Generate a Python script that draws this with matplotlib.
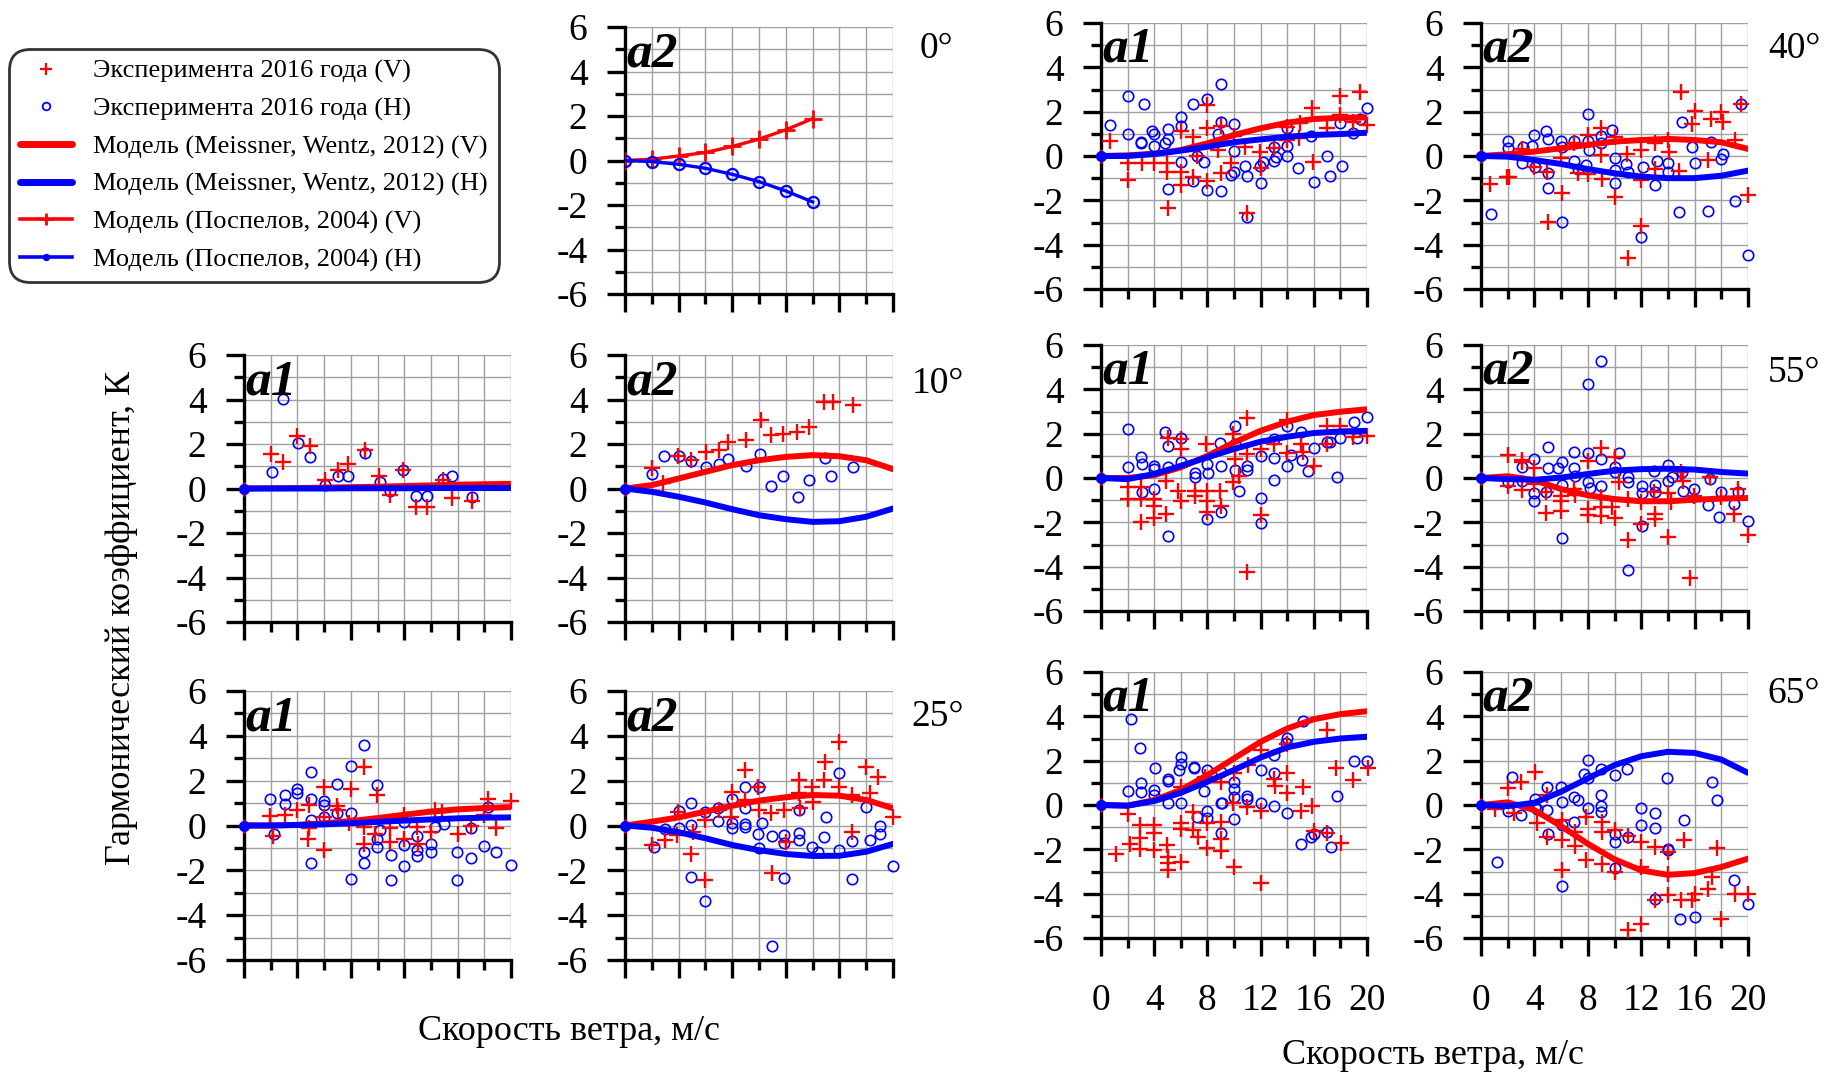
import matplotlib
matplotlib.use("Agg")
import matplotlib.pyplot as plt
from matplotlib.lines import Line2D

plt.rcParams["font.family"] = ["Liberation Serif", "DejaVu Serif"]
plt.rcParams["axes.unicode_minus"] = False

# wind speed grid for the model curves (m/s)
ws_model = [0, 2, 4, 6, 8, 10, 12, 14, 16, 18, 20]
ws_pospelov = [0, 2, 4, 6, 8, 10, 12, 14]

# Pospelov (2004) model, 0 deg, a2
pos_a2_0_V = [0, 0.06, 0.2, 0.36, 0.63, 0.96, 1.38, 1.88]
pos_a2_0_H = [0, -0.05, -0.17, -0.35, -0.62, -0.95, -1.37, -1.86]

# Meissner, Wentz (2012) model curves
mw_a1_10_V = [0, 0.01, 0.02, 0.04, 0.06, 0.08, 0.11, 0.14, 0.17, 0.19, 0.21]
mw_a1_10_H = [0, 0, 0, 0, 0.01, 0.01, 0.01, 0.02, 0.02, 0.02, 0.02]
mw_a2_10_V = [0, 0.15, 0.45, 0.75, 1.05, 1.27, 1.42, 1.5, 1.45, 1.27, 0.87]
mw_a2_10_H = [0, -0.15, -0.37, -0.63, -0.93, -1.2, -1.38, -1.5, -1.47, -1.27, -0.9]
mw_a1_25_V = [0, 0.0, 0.03, 0.1, 0.2, 0.33, 0.48, 0.62, 0.72, 0.78, 0.82]
mw_a1_25_H = [0, 0.0, 0.02, 0.05, 0.1, 0.16, 0.22, 0.27, 0.32, 0.35, 0.36]
mw_a2_25_V = [0, 0.17, 0.36, 0.62, 0.88, 1.11, 1.26, 1.36, 1.33, 1.14, 0.77]
mw_a2_25_H = [0, -0.1, -0.3, -0.57, -0.87, -1.1, -1.27, -1.36, -1.35, -1.17, -0.82]
mw_a1_40_V = [0, 0.03, 0.1, 0.27, 0.57, 0.95, 1.25, 1.5, 1.67, 1.72, 1.74]
mw_a1_40_H = [0, 0.0, 0.09, 0.24, 0.42, 0.62, 0.75, 0.87, 0.95, 0.99, 1.05]
mw_a2_40_V = [0, 0.08, 0.2, 0.35, 0.5, 0.65, 0.72, 0.77, 0.72, 0.62, 0.32]
mw_a2_40_H = [0, -0.03, -0.18, -0.36, -0.59, -0.78, -0.93, -1.0, -1.0, -0.89, -0.66]
mw_a1_55_V = [0, 0.0, 0.13, 0.48, 1.0, 1.6, 2.13, 2.54, 2.84, 2.99, 3.1]
mw_a1_55_H = [0, -0.05, 0.18, 0.55, 0.93, 1.31, 1.64, 1.86, 2.03, 2.1, 2.13]
mw_a2_55_V = [0, 0.08, -0.1, -0.5, -0.78, -0.95, -1.05, -1.05, -0.98, -0.93, -0.9]
mw_a2_55_H = [0, -0.05, -0.08, 0.02, 0.18, 0.33, 0.4, 0.42, 0.38, 0.27, 0.2]
mw_a1_65_V = [0, -0.03, 0.22, 0.68, 1.35, 2.1, 2.85, 3.45, 3.87, 4.1, 4.23]
mw_a1_65_H = [0, -0.03, 0.18, 0.55, 1.05, 1.58, 2.14, 2.6, 2.85, 3.0, 3.08]
mw_a2_65_V = [0, 0.12, -0.23, -0.95, -1.75, -2.45, -2.95, -3.15, -3.07, -2.8, -2.42]
mw_a2_65_H = [0, -0.05, 0.1, 0.6, 1.2, 1.8, 2.2, 2.4, 2.35, 2.05, 1.45]

# experiment 2016, (wind speed, harmonic coefficient)
a1_10_V = [(2.0, 1.54), (2.95, 1.17), (4.0, 2.37), (4.94, 1.92), (6.07, 0.39), (7.04, 0.84),
           (7.77, 1.11), (9.06, 1.71), (10.1, 0.58), (10.9, -0.31), (11.9, 0.84), (12.9, -0.81),
           (13.7, -0.81), (14.9, 0.39), (15.55, -0.43), (17.1, -0.54)]
a1_10_H = [(2.07, 0.76), (2.95, 4.01), (4.07, 2.04), (4.94, 1.41), (6.07, 0.16), (7.04, 0.58),
           (7.8, 0.58), (9.1, 1.59), (10.2, 0.27), (10.9, -0.1), (11.9, 0.81), (12.9, -0.33),
           (13.7, -0.33), (14.9, 0.42), (15.55, 0.54), (17.1, -0.39)]
a2_10_V = [(2.04, 0.94), (2.8, 0.25), (3.98, 1.45), (4.9, 1.27), (6.04, 1.65), (7.0, 1.75),
           (7.7, 2.1), (9.03, 2.17), (10.15, 3.07), (10.87, 2.4), (11.8, 2.43), (12.8, 2.52),
           (13.7, 2.76), (14.85, 3.9), (15.5, 3.9), (17.0, 3.75)]
a2_10_H = [(2.04, 0.63), (2.93, 1.47), (4.03, 1.45), (4.9, 1.24), (6.04, 0.96), (7.0, 1.11),
           (7.7, 1.32), (9.0, 1.02), (10.1, 1.57), (10.87, 0.13), (11.8, 0.55), (12.9, -0.4),
           (13.7, 0.4), (14.9, 1.38), (15.4, 0.55), (17.0, 0.96)]
a1_25_V = [(1.97, 0.42), (2.2, -0.46), (3.05, 0.46), (4.0, 0.71), (4.9, 0.91), (4.84, -0.13),
           (4.8, -0.58), (6.0, 1.72), (6.0, -1.1), (6.0, 0.39), (6.94, 0.86), (7.04, 0.68),
           (7.99, 1.65), (7.9, 0.09), (8.99, 2.62), (8.99, -0.83), (9.0, -0.06), (9.99, 1.35),
           (9.8, -0.36), (10.9, -0.13), (10.9, -0.73), (11.96, -0.62), (11.96, 0.46),
           (12.96, -0.06), (13.0, -0.83), (13.98, -0.31), (14.3, 0.68), (14.83, 0.61),
           (16.0, -0.36), (17.0, -0.03), (18.28, 1.2), (18.9, -0.13), (19.97, 1.1), (18.0, 0.46)]
a1_25_H = [(1.97, 1.2), (2.25, -0.36), (3.05, 1.35), (3.05, 0.98), (4.0, 1.65), (4.0, 1.43),
           (4.99, 2.39), (4.99, 1.16), (4.99, 0.24), (4.99, -1.67), (6.0, 1.1), (6.0, 0.91),
           (6.0, 0.39), (7.0, 1.87), (7.0, 0.57), (7.99, 2.65), (7.99, 0.54), (7.99, -2.38),
           (8.99, 3.57), (8.99, -1.17), (8.99, -1.67), (9.99, 1.8), (9.99, -0.58), (9.99, -0.95),
           (10.2, -0.18), (10.99, -1.32), (10.99, -2.41), (11.96, 0.16), (11.96, -0.88),
           (11.96, -1.81), (12.96, -0.46), (12.96, -1.1), (12.96, -1.37), (13.98, -0.83),
           (13.98, -1.17), (14.28, -0.06), (14.98, 0.06), (15.98, -1.17), (15.98, -2.41),
           (16.98, -0.1), (16.98, -1.47), (17.98, -0.91), (18.28, 0.83), (18.9, -1.17),
           (19.97, -1.77)]
a2_25_V = [(2.05, -0.87), (3.0, -0.65), (3.9, -0.43), (3.93, 0.62), (4.93, -1.25), (5.08, -0.28),
           (6.0, -2.43), (6.0, 0.25), (7.0, 0.69), (7.95, 1.51), (7.9, 0.39), (8.95, 2.48),
           (8.95, 1.14), (9.9, 1.73), (10.0, 0.69), (10.9, 0.54), (11.0, -2.13), (11.9, 0.69),
           (12.0, -0.75), (12.95, 2.03), (13.0, 1.43), (13.05, 0.8), (13.95, 1.7), (14.0, 1.06),
           (14.93, 2.84), (14.83, 2.03), (16.0, 3.74), (16.0, 1.73), (16.95, 1.36),
           (16.95, -0.28), (17.95, 2.62), (18.25, 1.43), (18.9, 2.15), (20.0, 0.39)]
a2_25_H = [(2.2, -0.97), (3.0, -0.17), (4.0, 0.66), (4.0, -0.13), (4.93, 1.02), (4.93, 0.02),
           (4.93, -2.28), (6.0, 0.62), (6.0, -3.36), (6.95, 0.77), (6.95, 0.22), (7.95, 1.17),
           (7.95, 0.1), (7.95, -0.13), (8.95, 1.7), (8.95, 0.77), (8.95, 0.07), (8.95, -0.05),
           (10.0, 1.7), (9.95, -0.38), (10.25, 0.13), (10.0, -1.02), (11.0, -0.47), (11.0, -5.36),
           (11.9, -0.43), (11.9, -0.8), (11.9, -2.36), (12.95, 0.69), (13.0, -0.32),
           (13.0, -0.65), (13.95, -0.95), (14.4, -1.17), (15.0, 0.39), (14.83, -0.5),
           (16.0, 2.36), (16.0, -1.1), (16.95, -0.68), (16.95, -2.38), (17.95, 0.84),
           (18.25, -0.65), (19.0, -0.02), (19.0, -0.38), (20.0, -1.79)]
a1_40_V = [(0.7, 0.68), (2.0, -1.08), (2.0, -0.3), (3.08, -0.33), (3.95, -0.33), (4.95, -0.33),
           (4.95, -0.7), (5.0, -2.36), (6.0, 1.13), (6.0, -0.7), (6.0, -1.3), (6.95, 0.84),
           (6.95, -0.93), (7.2, 0.0), (7.95, 1.25), (8.0, 2.3), (8.0, -1.15), (8.8, 0.27),
           (9.0, 1.35), (9.0, -0.78), (9.8, -0.33), (10.0, 0.9), (10.8, 0.42), (11.0, -2.58),
           (11.95, 0.2), (12.0, -0.55), (13.0, 0.35), (13.95, 1.32), (13.95, 0.72), (14.95, 1.47),
           (14.9, 0.8), (15.9, 2.15), (15.95, -0.25), (17.0, 1.25), (18.0, 2.7), (18.0, 1.85),
           (19.45, 2.9), (18.95, 1.55), (20.0, 1.4)]
a1_40_H = [(0.7, 1.4), (2.0, 2.7), (2.0, 0.98), (3.0, 0.65), (3.0, 0.57), (3.2, 2.34), (3.8, 1.14),
           (4.0, 0.98), (4.0, 0.45), (4.8, 0.6), (5.0, 0.75), (5.0, 1.2), (5.0, -1.5), (6.0, 1.74),
           (6.0, 1.37), (6.0, -0.29), (6.95, 2.34), (6.95, -1.13), (7.2, 0.0), (7.78, -0.29),
           (8.0, 2.57), (8.0, -1.53), (8.8, 0.98), (9.0, 3.24), (9.0, 1.52), (9.0, -1.58),
           (10.0, 1.43), (10.0, 0.23), (9.78, -0.86), (10.0, -0.71), (10.8, -0.44), (11.0, -0.9),
           (11.0, -2.73), (11.95, -0.44), (12.0, -1.2), (12.2, -0.26), (13.0, 0.42), (13.0, -0.22),
           (13.15, -0.03), (13.95, 0.45), (13.95, 0.02), (14.0, 1.25), (14.8, -0.56), (15.8, 0.9),
           (16.0, -1.16), (17.0, 0.02), (17.2, -0.89), (18.0, 1.5), (18.1, -0.44), (18.95, 1.05),
           (19.45, 1.65), (20.0, 2.15)]
a2_40_V = [(0.67, -1.26), (1.97, -0.96), (2.1, -0.96), (3.05, 0.32), (4.0, -0.48), (4.92, -0.74),
           (5.0, -2.96), (6.1, -1.65), (6.0, -0.1), (7.0, 0.6), (7.3, -0.78), (7.99, 0.95),
           (7.99, -0.83), (8.99, 1.25), (8.99, 0.05), (9.04, -1.05), (10.0, 0.87), (10.0, -1.83),
           (10.9, 0.08), (11.0, -4.59), (12.0, 0.27), (12.0, -1.08), (12.0, -3.14), (13.0, 0.57),
           (13.0, -0.59), (14.0, 0.72), (14.05, 0.2), (14.83, -0.68), (14.98, 2.87), (15.8, 1.44),
           (16.05, 2.05), (17.0, -0.18), (17.25, 1.67), (18.0, 2.0), (18.1, 1.52), (19.0, 0.72),
           (19.5, 2.33), (20.0, -1.76)]
a2_40_H = [(0.75, -2.62), (2.0, 0.68), (2.0, 0.35), (3.05, -0.33), (3.17, 0.42), (3.8, 0.45),
           (4.0, 0.95), (4.05, -0.48), (4.84, 1.14), (5.0, 0.75), (5.0, -0.78), (5.04, -1.46),
           (6.0, 0.68), (6.1, 0.42), (6.04, -2.96), (7.0, 0.68), (7.0, -0.23), (7.3, -0.59),
           (7.99, 1.89), (7.99, 0.68), (8.1, 0.27), (7.85, -0.41), (8.99, 0.57), (8.99, 0.92),
           (9.8, 1.17), (10.04, -0.08), (10.04, -1.23), (10.04, -0.63), (10.84, -0.38),
           (11.0, -0.71), (12.0, -3.64), (12.16, -0.48), (13.0, -1.31), (13.16, -0.23),
           (14.0, -0.33), (14.0, -0.71), (14.83, -2.54), (15.03, 1.55), (15.83, 0.39),
           (16.05, -0.3), (17.03, -2.48), (17.25, 0.62), (18.0, -0.14), (18.15, 0.08),
           (19.0, -2.02), (19.48, 2.35), (20.0, -4.47)]
a1_55_V = [(2.0, -0.42), (2.0, -0.95), (3.0, -0.42), (3.0, -0.95), (3.0, -2.0), (4.0, -0.95),
           (4.0, -1.28), (4.0, -1.82), (4.9, -1.62), (4.9, -0.15), (5.05, 1.79), (6.05, 1.76),
           (6.05, 1.31), (5.8, -0.57), (6.05, -1.02), (7.05, -0.57), (7.05, -0.83), (7.9, 1.53),
           (8.0, -0.57), (8.0, -1.05), (8.0, -1.55), (8.95, -0.57), (9.0, -1.25), (9.9, 1.98),
           (10.05, 0.86), (9.9, -0.2), (10.35, 0.11), (11.0, 2.69), (11.0, 1.08), (11.0, -4.23),
           (12.0, 1.31), (12.0, -1.67), (13.0, 1.53), (14.0, 2.63), (14.0, 1.13), (15.0, 1.53),
           (15.2, 1.16), (16.0, 0.56), (17.0, 2.36), (17.0, 1.53), (18.0, 2.36), (18.95, 1.86),
           (20.0, 1.91)]
a1_55_H = [(2.0, 0.48), (2.05, 2.21), (3.0, 0.93), (3.05, 0.63), (3.05, -0.62), (4.0, 0.53),
           (4.0, 0.41), (4.0, -0.5), (4.8, 2.06), (5.05, 1.43), (5.05, 0.48), (5.05, -2.6),
           (6.05, 0.71), (6.05, 1.79), (7.05, 0.23), (7.05, 0.03), (8.0, 0.63), (8.05, 0.23),
           (8.0, -1.85), (8.95, 1.58), (9.0, 0.53), (9.0, -1.55), (10.05, 2.36), (10.05, 1.53),
           (10.05, 0.36), (10.35, -0.57), (11.0, 0.56), (11.0, 0.36), (12.0, 0.98), (12.0, -0.92),
           (12.0, -2.05), (13.0, 1.76), (13.0, 0.9), (13.0, -0.08), (14.0, 2.36), (14.0, 0.56),
           (14.25, 1.05), (15.0, 2.06), (15.1, 0.83), (15.6, 0.3), (16.0, 1.35), (17.0, 1.64),
           (17.2, 1.64), (17.75, 0.03), (18.0, 1.8), (19.0, 2.54), (19.25, 1.8), (20.0, 2.77)]
a2_55_V = [(2.05, 1.04), (2.05, -0.38), (3.05, 0.83), (3.05, 0.74), (3.05, -0.53), (4.0, 0.44),
           (4.0, -0.27), (4.85, -0.65), (4.85, -1.58), (6.0, -0.8), (6.0, -1.02), (6.0, -1.47),
           (7.0, -0.5), (7.05, -0.77), (7.99, 0.78), (7.99, -1.4), (7.99, -1.67), (9.0, 1.34),
           (9.0, -0.87), (9.0, -1.32), (9.0, -1.7), (10.0, 0.93), (10.0, -1.82), (10.3, -0.2),
           (9.85, -1.32), (10.99, -0.95), (10.99, -2.78), (11.96, -2.08), (11.96, -1.07),
           (12.96, -0.65), (13.03, -1.62), (13.03, -1.85), (13.98, -0.68), (13.98, -2.68),
           (14.23, -1.07), (14.98, 0.29), (15.15, -0.12), (15.65, -4.51), (15.98, -0.8),
           (17.15, 0.03), (17.98, -0.87), (18.98, -1.62), (19.23, -0.5), (20.0, -2.57)]
a2_55_H = [(2.05, -0.2), (3.05, 0.48), (3.05, -0.12), (4.0, 0.86), (4.0, -0.69), (4.0, -1.02),
           (4.85, -0.65), (5.0, 1.38), (5.0, 0.44), (5.8, 0.44), (6.04, 0.74), (6.04, -0.3),
           (6.04, -2.71), (7.0, 1.16), (7.0, 0.44), (7.05, 0.08), (7.99, 4.24), (8.04, 1.13),
           (8.04, -0.2), (8.16, -0.47), (9.0, 5.29), (9.0, 0.86), (9.0, -0.38), (10.04, 0.48),
           (10.04, 0.26), (10.3, 1.13), (10.99, 0.06), (11.04, -0.2), (11.04, -4.14),
           (12.04, -0.35), (12.04, -0.68), (12.04, -2.18), (12.99, 0.33), (13.03, -0.32),
           (13.03, -0.65), (13.98, 0.59), (14.03, -0.15), (14.28, 0.03), (15.03, 0.29),
           (15.15, -0.57), (15.98, -0.5), (16.98, -1.2), (17.15, -0.05), (17.83, -1.74),
           (18.0, -0.65), (18.98, -1.17), (19.28, -0.65), (20.0, -1.92)]
a1_65_V = [(1.15, -2.22), (2.0, -0.42), (2.2, -1.77), (2.95, -0.9), (2.95, -1.5), (2.95, -2.0),
           (4.0, -0.9), (4.0, -1.28), (4.0, -2.03), (4.95, -1.8), (5.0, -2.33), (5.0, -2.63),
           (5.0, -2.93), (6.0, -0.83), (6.0, -1.1), (6.0, -2.55), (6.0, 0.83), (6.95, -0.3),
           (6.95, -1.13), (7.33, -1.43), (7.83, 1.28), (7.95, -0.83), (8.0, -1.95), (9.0, 1.05),
           (9.0, -0.75), (9.0, -1.53), (9.0, -2.06), (10.0, 1.46), (9.95, 0.08), (10.0, -2.78),
           (10.95, -0.08), (11.08, 1.8), (12.0, 2.48), (12.0, -0.26), (12.0, -3.53), (13.0, 1.16),
           (13.08, 0.87), (13.95, 1.43), (14.0, 0.53), (13.95, 2.75), (15.0, -0.26), (15.2, 0.83),
           (15.9, -0.05), (16.0, -1.16), (17.0, 3.38), (17.0, -1.25), (17.7, 1.68),
           (18.08, -1.73), (18.95, 1.13), (20.08, 1.65)]
a1_65_H = [(2.0, 0.65), (2.25, 3.87), (2.95, 2.55), (3.0, 1.0), (3.0, 0.6), (4.08, 1.68),
           (4.0, 0.68), (4.0, 0.45), (5.0, 1.16), (5.0, 0.1), (5.0, 1.1), (6.0, 2.18), (6.0, 1.85),
           (5.9, 1.58), (6.0, 0.08), (7.0, 1.73), (7.0, 1.65), (7.25, -0.53), (7.78, 0.65),
           (8.0, 1.58), (8.0, -0.27), (8.0, -0.6), (9.0, 1.5), (9.0, 0.1), (9.08, 0.08),
           (9.0, -1.25), (10.0, 1.05), (10.0, 0.72), (10.0, 0.38), (10.0, -0.63), (10.95, 0.4),
           (11.0, 0.25), (12.0, 1.6), (12.0, 0.08), (13.0, 2.25), (13.0, 1.46), (13.0, -0.03),
           (13.95, 3.03), (13.9, 2.8), (14.0, -0.35), (15.0, -1.75), (15.2, 3.78), (15.78, -1.43),
           (16.0, -1.3), (17.0, -1.2), (17.28, -1.88), (17.75, 0.4), (19.0, 2.0), (20.0, 2.0)]
a2_65_V = [(1.05, -0.17), (2.05, 0.78), (2.47, -0.36), (3.0, 1.04), (4.04, 1.49), (4.17, -0.81),
           (4.96, 0.44), (4.96, -1.44), (6.03, -0.66), (6.03, -1.59), (6.03, -2.95), (7.03, -1.22),
           (7.03, -1.86), (7.9, -0.54), (7.9, -2.5), (9.03, -0.77), (9.03, -1.22), (9.03, -2.68),
           (10.02, -1.14), (10.02, -3.02), (11.0, -1.41), (11.0, -5.62), (12.0, -1.67),
           (12.0, -2.8), (12.0, -5.35), (13.0, -1.89), (13.0, -4.3), (14.0, -2.12), (14.0, -3.1),
           (14.0, -4.08), (15.0, -4.27), (15.2, -1.59), (15.8, -4.3), (16.0, -4.0), (17.0, -3.77),
           (17.33, -3.25), (17.68, -1.92), (18.0, -5.13), (19.0, -4.0), (20.0, -4.0)]
a2_65_H = [(1.22, -2.57), (2.05, -0.27), (2.3, 1.26), (3.0, -0.47), (4.04, 0.29), (4.04, -0.09),
           (4.17, -0.17), (4.96, 0.81), (4.96, -0.24), (5.04, -1.32), (5.96, 0.81), (6.03, 0.14),
           (6.03, -0.92), (6.03, -3.67), (7.0, 0.36), (7.28, 0.24), (7.0, -0.77), (7.75, 1.41),
           (8.03, 2.05), (8.03, 1.23), (8.03, -0.12), (9.0, 1.64), (9.0, 0.44), (9.0, -0.06),
           (9.0, -0.32), (10.02, 1.37), (10.02, -1.29), (10.02, -1.67), (10.02, -2.83),
           (10.95, 1.64), (11.0, -1.44), (12.0, -0.12), (12.0, -0.92), (13.0, -0.35),
           (13.0, -1.04), (13.0, -4.23), (13.9, 1.22), (14.0, -1.97), (14.0, -2.02),
           (14.93, -5.13), (15.2, -0.69), (16.0, -5.05), (17.3, 1.04), (17.68, 0.21),
           (18.95, -3.4), (20.0, -4.48)]

RED = "#ff0000"
BLUE = "#0000ff"
SERIF = "Liberation Serif"
W, H = 1827, 1076


def px_axes(fig, x0, y0, x1, y1):
    return fig.add_axes([x0 / W, 1 - y1 / H, (x1 - x0) / W, (y1 - y0) / H])


def style(ax, label, xlabels=False):
    ax.set_xlim(0, 20)
    ax.set_ylim(-6, 6)
    ax.set_xticks(range(0, 21, 4))
    ax.set_xticks(range(0, 21, 2), minor=True)
    ax.set_yticks(range(-6, 7, 2))
    ax.set_yticks(range(-6, 7, 1), minor=True)
    ax.set_yticklabels([str(v) for v in range(-6, 7, 2)], fontfamily=SERIF, fontsize=27)
    if xlabels:
        ax.set_xticklabels([str(v) for v in range(0, 21, 4)], fontfamily=SERIF, fontsize=27)
    else:
        ax.set_xticklabels([])
    ax.grid(True, which="both", color="#a0a0a0", lw=1.0, zorder=0)
    ax.set_axisbelow(True)
    for s in ["top", "right"]:
        ax.spines[s].set_visible(False)
    for s in ["left", "bottom"]:
        ax.spines[s].set_linewidth(2.4)
    ax.tick_params(which="major", direction="out", length=13, width=2.4)
    ax.tick_params(which="minor", direction="out", length=7, width=2.4)
    ax.tick_params(axis="y", pad=14)
    ax.tick_params(axis="x", pad=20)
    ax.text(0.005, 0.985, label, transform=ax.transAxes, ha="left", va="top",
            fontsize=37, fontweight="bold", fontstyle="italic", zorder=10)


def scatter(ax, pts_v, pts_h):
    ax.plot([p[0] for p in pts_h], [p[1] for p in pts_h], ls="none", marker="o",
            mfc="none", mec=BLUE, ms=7.5, mew=1.2, clip_on=False, zorder=3)
    ax.plot([p[0] for p in pts_v], [p[1] for p in pts_v], ls="none", marker="+",
            color=RED, ms=12, mew=1.7, clip_on=False, zorder=3)


def model(ax, v, h):
    ax.plot(ws_model, v, color=RED, lw=4.3, solid_capstyle="round", zorder=4)
    ax.plot(ws_model, h, color=BLUE, lw=4.3, solid_capstyle="round", zorder=4)
    ax.plot([0], [0], marker="|", color=RED, ms=10, mew=2, zorder=5, clip_on=False)
    ax.plot([0], [0], marker="o", color=BLUE, ms=7, zorder=5, clip_on=False)


fig = plt.figure(figsize=(W / 100, H / 100), dpi=100)

left_cols = [(244, 511), (625, 893)]
right_cols = [(1101, 1367), (1481, 1748)]
left_rows = [(27, 294), (355, 622), (691, 960)]
right_rows = [(23, 289), (345, 611), (672, 938)]

# 0 deg, a2 (Pospelov model only)
ax = px_axes(fig, left_cols[1][0], left_rows[0][0], left_cols[1][1], left_rows[0][1])
style(ax, "a2")
ax.plot(ws_pospelov, pos_a2_0_V, color=RED, lw=2.4, marker="+", ms=13, mew=2, zorder=4)
ax.plot(ws_pospelov, pos_a2_0_H, color=BLUE, lw=2.4, marker="o", mfc="none", ms=8, mew=1.6, zorder=4)

panels = [
    (left_cols[0], left_rows[1], "a1", a1_10_V, a1_10_H, mw_a1_10_V, mw_a1_10_H, False),
    (left_cols[1], left_rows[1], "a2", a2_10_V, a2_10_H, mw_a2_10_V, mw_a2_10_H, False),
    (left_cols[0], left_rows[2], "a1", a1_25_V, a1_25_H, mw_a1_25_V, mw_a1_25_H, False),
    (left_cols[1], left_rows[2], "a2", a2_25_V, a2_25_H, mw_a2_25_V, mw_a2_25_H, False),
    (right_cols[0], right_rows[0], "a1", a1_40_V, a1_40_H, mw_a1_40_V, mw_a1_40_H, False),
    (right_cols[1], right_rows[0], "a2", a2_40_V, a2_40_H, mw_a2_40_V, mw_a2_40_H, False),
    (right_cols[0], right_rows[1], "a1", a1_55_V, a1_55_H, mw_a1_55_V, mw_a1_55_H, False),
    (right_cols[1], right_rows[1], "a2", a2_55_V, a2_55_H, mw_a2_55_V, mw_a2_55_H, False),
    (right_cols[0], right_rows[2], "a1", a1_65_V, a1_65_H, mw_a1_65_V, mw_a1_65_H, True),
    (right_cols[1], right_rows[2], "a2", a2_65_V, a2_65_H, mw_a2_65_V, mw_a2_65_H, True),
]
for (cx, ry, lab, pv, ph, mv, mh, xl) in panels:
    ax = px_axes(fig, cx[0], ry[0], cx[1], ry[1])
    style(ax, lab, xl)
    scatter(ax, pv, ph)
    model(ax, mv, mh)

# angle labels
for txt, x, y in [("0°", 936, 49), ("10°", 938, 384), ("25°", 938, 717),
                  ("40°", 1794, 49), ("55°", 1794, 373), ("65°", 1794, 694)]:
    fig.text(x / W, 1 - y / H, txt, ha="center", va="center", fontsize=27)

fig.text(122 / W, 1 - 618 / H, "Гармонический коэффициент, К", rotation=90,
         ha="center", va="center", fontsize=26)
fig.text(569 / W, 1 - 1031 / H, "Скорость ветра, м/с", ha="center", va="center", fontsize=26)
fig.text(1433 / W, 1 - 1056 / H, "Скорость ветра, м/с", ha="center", va="center", fontsize=26)

handles = [
    Line2D([], [], ls="none", marker="+", color=RED, ms=9, mew=1.6),
    Line2D([], [], ls="none", marker="o", mfc="none", mec=BLUE, ms=5.5, mew=1.3),
    Line2D([], [], color=RED, lw=5, solid_capstyle="round"),
    Line2D([], [], color=BLUE, lw=5, solid_capstyle="round"),
    Line2D([], [], color=RED, lw=2.6, marker="+", ms=9, mew=2, markevery=[1]),
    Line2D([], [], color=BLUE, lw=2.6, marker="o", ms=4, mew=1.3, markevery=[1]),
]
labels = ["Эксперимента 2016 года (V)", "Эксперимента 2016 года (H)",
          "Модель (Meissner, Wentz, 2012) (V)", "Модель (Meissner, Wentz, 2012) (H)",
          "Модель (Поспелов, 2004) (V)", "Модель (Поспелов, 2004) (H)"]
leg = fig.legend(handles, labels, loc="upper left", bbox_to_anchor=(9 / W, 1 - 49 / H),
                 fontsize=19, frameon=True, fancybox=True, edgecolor="black",
                 handlelength=2.0, handletextpad=0.8, labelspacing=0.52,
                 borderpad=0.4, borderaxespad=0)
leg.get_frame().set_linewidth(2.0)
leg.get_frame().set_boxstyle("round", pad=0, rounding_size=0.8)

fig.savefig("out.png", dpi=100)
